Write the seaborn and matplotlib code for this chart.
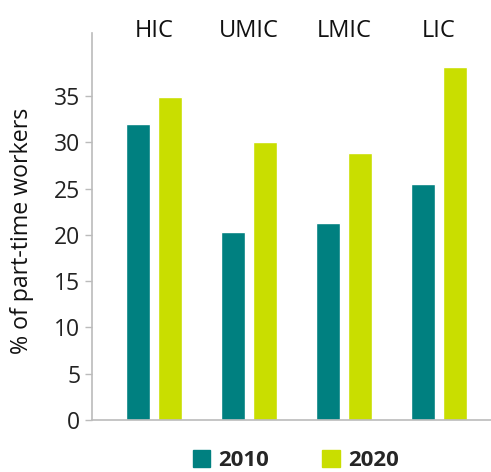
import matplotlib
matplotlib.use("Agg")
import matplotlib.pyplot as plt
import seaborn as sns
import pandas as pd

# Share of part-time workers by country income group
regions = ["HIC", "UMIC", "LMIC", "LIC"]
years = ["2010", "2020"]
share_2010 = [32.0, 20.3, 21.3, 25.5]
share_2020 = [34.9, 30.0, 28.8, 38.1]
yticks = [0, 5, 10, 15, 20, 25, 30, 35]

teal = "#008080"
lime = "#C9DE00"

df = pd.DataFrame({
    "region": regions * 2,
    "year": [years[0]] * len(regions) + [years[1]] * len(regions),
    "share": share_2010 + share_2020,
})

sns.set_theme(style="white")
plt.rcParams["font.family"] = ["Open Sans", "DejaVu Sans"]

fig = plt.figure(figsize=(4.91, 4.72), dpi=100)
ax = fig.add_axes([0.1864, 0.1102, 0.8136, 0.8199])

sns.barplot(data=df, x="region", y="share", hue="year", order=regions,
            hue_order=years, palette=[teal, lime], width=0.674, gap=0.25,
            saturation=1, legend=False, ax=ax)

ax.set_xlim(-0.658, 3.547)
ax.set_ylim(0, 41.8)
ax.set_yticks(yticks)
ax.set_yticklabels([str(t) for t in yticks])
ax.tick_params(axis="y", which="both", left=True, length=5, width=1,
               color="#BBBBBB", labelsize=16.5, labelcolor="#222222", pad=3)

# income groups shown along the top edge
ax.xaxis.tick_top()
ax.tick_params(axis="x", top=False, bottom=False, length=0,
               labelsize=17, labelcolor="#111111", pad=-3)
for lab in ax.get_xticklabels():
    lab.set_verticalalignment("baseline")
ax.set_xlabel("")
ax.set_ylabel("")

for side in ["top", "right"]:
    ax.spines[side].set_visible(False)
for side in ["left", "bottom"]:
    ax.spines[side].set_color("#BBBBBB")
    ax.spines[side].set_linewidth(1.2)

fig.text(22 / 491, 1 - 231 / 472, "% of part-time workers", rotation=90,
         ha="center", va="center", fontsize=16.7, color="#111111")

handles = [plt.Rectangle((0, 0), 1, 1, color=c) for c in (teal, lime)]
fig.legend(handles, years, loc="center", bbox_to_anchor=(0.602, 0.024),
           ncol=2, frameon=False, handlelength=0.8, handleheight=0.8,
           handletextpad=0.35, columnspacing=2.4,
           prop={"weight": "bold", "size": 16})

fig.savefig("out.png", dpi=100)
